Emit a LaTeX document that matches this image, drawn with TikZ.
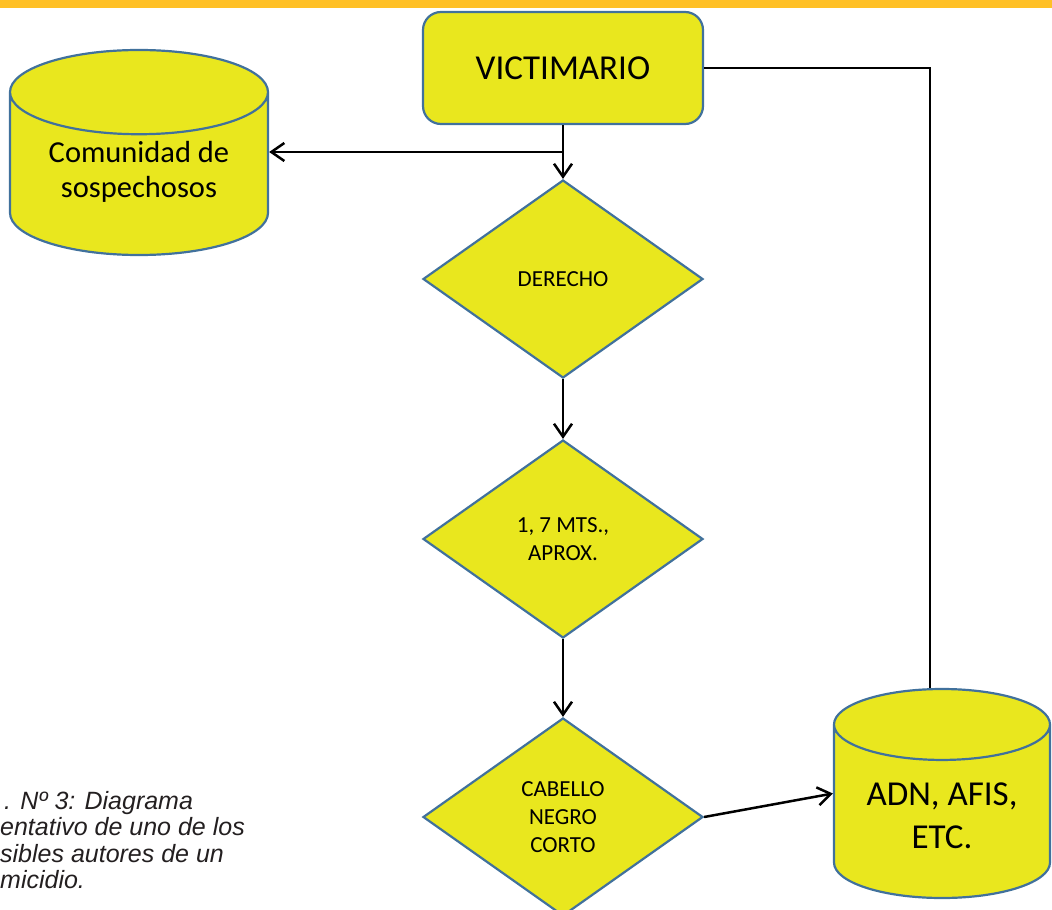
\documentclass[tikz,border=0pt]{standalone}
\usepackage{fontspec}
\setmainfont{Carlito}
\newfontfamily\capfont{Liberation Sans}
\usetikzlibrary{shapes.geometric,arrows.meta}
\definecolor{fillyellow}{RGB}{233,231,30}
\definecolor{edgeblue}{RGB}{65,113,156}
\definecolor{barorange}{RGB}{255,192,38}
\definecolor{captext}{RGB}{35,31,32}
\tikzset{
  box/.style={draw=edgeblue, fill=fillyellow, line width=2.2pt, rounded corners=18pt,
    minimum width=280pt, minimum height=112pt},
  decision/.style={diamond, draw=edgeblue, fill=fillyellow, line width=2.2pt,
    minimum width=280pt, minimum height=198pt, inner sep=0pt, align=center,
    font=\fontsize{23}{28}\selectfont},
  store/.style={cylinder, shape border rotate=90, shape aspect=0.45, draw=edgeblue,
    fill=fillyellow, line width=2.2pt, align=center, anchor=shape center},
  flow/.style={line width=2.5pt, -{Straight Barb[length=13pt,width=18pt]}},
  link/.style={line width=2.5pt}
}
\begin{document}
\begin{tikzpicture}[x=1pt,y=-1pt]
  \path[use as bounding box, clip] (0,0) rectangle (1052,910);
  \fill[barorange] (0,0) rectangle (1052,8);

  \node[box, font=\fontsize{35}{42}\selectfont] (vic) at (563,68) {VICTIMARIO};
  \node[store, minimum width=258pt, minimum height=205pt, text depth=18pt,
    font=\fontsize{30.5}{35}\selectfont] (sus) at (139,152.5) {Comunidad de\\sospechosos};
  \node[decision] (der) at (563,279) {DERECHO};
  \node[decision] (alt) at (563,539) {1, 7 MTS.,\\APROX.};
  \node[decision] (hair) at (563,817) {CABELLO\\NEGRO\\CORTO};
  \node[store, minimum width=216pt, minimum height=209pt,
    font=\fontsize{35}{43}\selectfont] (adn) at (942,793.5) {ADN, AFIS,\\ETC.};

  % caption, cut at the left edge
  \node[anchor=north west, align=left, inner sep=0pt, text=captext,
    font=\capfont\itshape\fontsize{25}{26.5}\selectfont] (cap) at (0,791)
    {\hspace*{4pt}. Nº 3: Diagrama\\entativo de uno de los\\sibles autores de un\\micidio.};

  \coordinate (split) at (563,152);
  \draw[link] (vic.south) -- (split);
  \draw[flow] (split) -- (der.north);
  \draw[flow] (split) -- (sus.east |- split);
  \draw[flow] (der.south) -- (alt.north);
  \draw[flow] (alt.south) -- (hair.north);
  \draw[flow] (hair.east) -- (adn.shape center -| adn.west);
  \draw[link] (vic.east) -| ([xshift=-12pt]adn.north);
\end{tikzpicture}
\end{document}
